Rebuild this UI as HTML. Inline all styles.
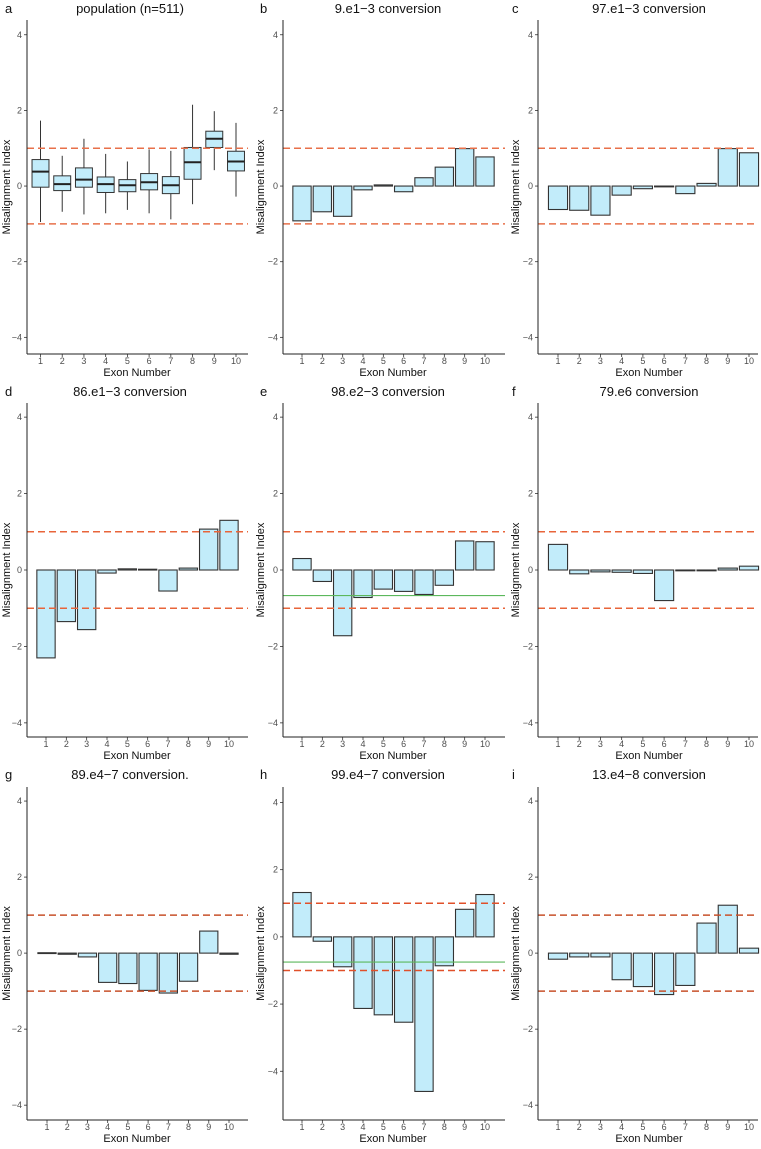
<!DOCTYPE html>
<html><head><meta charset="utf-8"><style>
body{margin:0;background:#fff}
svg text{font-family:"Liberation Sans",sans-serif}
</style></head><body>
<svg id="fig" width="761" height="1144" viewBox="0 0 761 1144" xmlns="http://www.w3.org/2000/svg"></svg>
<script>
const exons = [1,2,3,4,5,6,7,8,9,10];
const yTicks = [-4,-2,0,2,4];
const boxMed = [0.38,0.05,0.17,0.05,0.02,0.1,0.02,0.63,1.25,0.65];
const boxQ1  = [-0.03,-0.12,-0.03,-0.17,-0.15,-0.1,-0.2,0.18,1.02,0.4];
const boxQ3  = [0.7,0.27,0.48,0.24,0.17,0.33,0.25,1.02,1.45,0.92];
const boxLo  = [-0.95,-0.68,-0.75,-0.72,-0.63,-0.72,-0.88,-0.48,0.42,-0.28];
const boxHi  = [1.73,0.8,1.25,0.85,0.65,0.97,0.93,2.15,1.98,1.67];
const valsB = [-0.92,-0.68,-0.8,-0.1,0.03,-0.15,0.22,0.5,0.99,0.77];
const valsC = [-0.62,-0.64,-0.77,-0.24,-0.07,-0.01,-0.2,0.07,0.99,0.88];
const valsD = [-2.3,-1.35,-1.56,-0.08,0.03,0.02,-0.55,0.05,1.07,1.3];
const valsE = [0.3,-0.3,-1.72,-0.72,-0.5,-0.56,-0.64,-0.4,0.76,0.74];
const valsF = [0.67,-0.1,-0.05,-0.06,-0.09,-0.8,-0.01,-0.01,0.05,0.1];
const valsG = [0.01,-0.03,-0.1,-0.77,-0.8,-0.98,-1.05,-0.74,0.58,-0.03];
const valsH = [1.32,-0.13,-0.89,-2.13,-2.32,-2.54,-4.6,-0.86,0.82,1.26];
const valsI = [-0.16,-0.1,-0.1,-0.7,-0.88,-1.09,-0.85,0.79,1.26,0.13];
const greenE = -0.67;
const greenH = -0.75;
const thresholds = [1,-1];

const NS='http://www.w3.org/2000/svg';
const svg=document.getElementById('fig');
function mk(tag,attrs,parent){const e=document.createElementNS(NS,tag);for(const k in attrs)e.setAttribute(k,attrs[k]);(parent||svg).appendChild(e);return e;}

const cols=[{ax:27,right:248,yt:10,tx:130,let:5,xt:137},{ax:283,right:505,yt:264,tx:388,let:260,xt:393},{ax:538,right:758,yt:519,tx:649,let:512,xt:649}];
const rows=[{top:20,bot:354,ty:13,xl:372},{top:403,bot:737,ty:396,xl:755},{top:787,bot:1120,ty:779,xl:1138}];

const panels=[
 {id:'a',title:'population (n=511)',r:0,c:0,c1:40.5,c10:236,dmax:4.39,dmin:-4.44,box:true,dash:'#e8704a'},
 {id:'b',title:'9.e1\u22123 conversion',r:0,c:1,c1:302,c10:485,dmax:4.39,dmin:-4.44,vals:valsB,dash:'#e8704a'},
 {id:'c',title:'97.e1\u22123 conversion',r:0,c:2,c1:558,c10:749,dmax:4.39,dmin:-4.44,vals:valsC,dash:'#e8704a'},
 {id:'d',title:'86.e1\u22123 conversion',r:1,c:0,c1:46,c10:229,dmax:4.37,dmin:-4.37,vals:valsD,dash:'#e8643a'},
 {id:'e',title:'98.e2\u22123 conversion',r:1,c:1,c1:302,c10:485,dmax:4.37,dmin:-4.37,vals:valsE,green:greenE,dash:'#e8643a'},
 {id:'f',title:'79.e6 conversion',r:1,c:2,c1:558,c10:749,dmax:4.37,dmin:-4.37,vals:valsF,dash:'#e8643a'},
 {id:'g',title:'89.e4\u22127 conversion.',r:2,c:0,c1:47,c10:229,dmax:4.37,dmin:-4.39,vals:valsG,dash:'#c8502a'},
 {id:'h',title:'99.e4\u22127 conversion',r:2,c:1,c1:302,c10:485,dmax:4.46,dmin:-5.45,vals:valsH,green:greenH,dash:'#e0502a'},
 {id:'i',title:'13.e4\u22128 conversion',r:2,c:2,c1:558,c10:749,dmax:4.37,dmin:-4.39,vals:valsI,dash:'#c8502a'}
];

panels.forEach(p=>{
 const C=cols[p.c],R=rows[p.r];
 const g=mk('g',{});
 
 
 const y=v=>R.top+(p.dmax-v)/(p.dmax-p.dmin)*(R.bot-R.top);
 const sp=(p.c10-p.c1)/9;
 const x=e=>p.c1+(e-1)*sp;
 let t=mk('text',{x:C.let,y:R.ty,'font-size':13,fill:'#111'},g);t.textContent=p.id;
 
 t=mk('text',{x:C.tx,y:R.ty,'font-size':13,'text-anchor':'middle',fill:'#111'},g);t.textContent=p.title;
 
 const my=(R.top+R.bot)/2;
 t=mk('text',{x:C.yt,y:my,'font-size':11,'text-anchor':'middle',transform:`rotate(-90 ${C.yt} ${my})`,fill:'#111'},g);t.textContent='Misalignment Index';
 
 t=mk('text',{x:C.xt,y:R.xl+4,'font-size':11,'text-anchor':'middle',fill:'#111'},g);t.textContent='Exon Number';
 
 yTicks.forEach(v=>{
  mk('line',{x1:C.ax-3,x2:C.ax,y1:y(v),y2:y(v),stroke:'#333','stroke-width':0.8},g);
  const tl=mk('text',{x:C.ax-5,y:y(v)+3,'font-size':9,'text-anchor':'end',fill:'#4d4d4d'},g);
  tl.textContent=v<0?'\u2212'+(-v):String(v);
  
 });
 exons.forEach(e=>{
  mk('line',{x1:x(e),x2:x(e),y1:R.bot,y2:R.bot+3,stroke:'#333','stroke-width':0.8},g);
  const tl=mk('text',{x:x(e),y:R.bot+10,'font-size':9,'text-anchor':'middle',fill:'#4d4d4d'},g);
  tl.textContent=String(e);
  
 });
 const bw=sp*0.9;
 if(p.box){
  exons.forEach((e,i)=>{
   const w=sp*0.78;
   const wl=mk('line',{x1:x(e),x2:x(e),y1:y(boxHi[i]),y2:y(boxLo[i]),stroke:'#333','stroke-width':1},g);
   
   const r=mk('rect',{x:x(e)-w/2,y:y(boxQ3[i]),width:w,height:y(boxQ1[i])-y(boxQ3[i]),fill:'#c2ecfa',stroke:'#333','stroke-width':1},g);
   
   mk('line',{x1:x(e)-w/2,x2:x(e)+w/2,y1:y(boxMed[i]),y2:y(boxMed[i]),stroke:'#222','stroke-width':2},g);
  });
 } else {
  p.vals.forEach((v,i)=>{
   const e=exons[i];
   const y0=Math.min(y(0),y(v)),h=Math.max(Math.abs(y(v)-y(0)),0.8);
   const r=mk('rect',{x:x(e)-bw/2,y:y0,width:bw,height:h,fill:'#c2ecfa',stroke:'#333','stroke-width':1.1},g);
   
  });
 }
 thresholds.forEach(v=>{
  const l=mk('line',{x1:C.ax,x2:C.right,y1:y(v),y2:y(v),stroke:p.dash,'stroke-width':1.5,'stroke-dasharray':'7,4'},g);
  
 });
 if(p.green!==undefined){
  const l=mk('line',{x1:C.ax,x2:C.right,y1:y(p.green),y2:y(p.green),stroke:'#5cb85c','stroke-width':1.1},g);
  
 }
 const ya=mk('line',{x1:C.ax,x2:C.ax,y1:R.top,y2:R.bot,stroke:'#222','stroke-width':1},g);
 
 const xa=mk('line',{x1:C.ax,x2:C.right,y1:R.bot,y2:R.bot,stroke:'#222','stroke-width':1},g);
 
});
</script>
</body></html>
